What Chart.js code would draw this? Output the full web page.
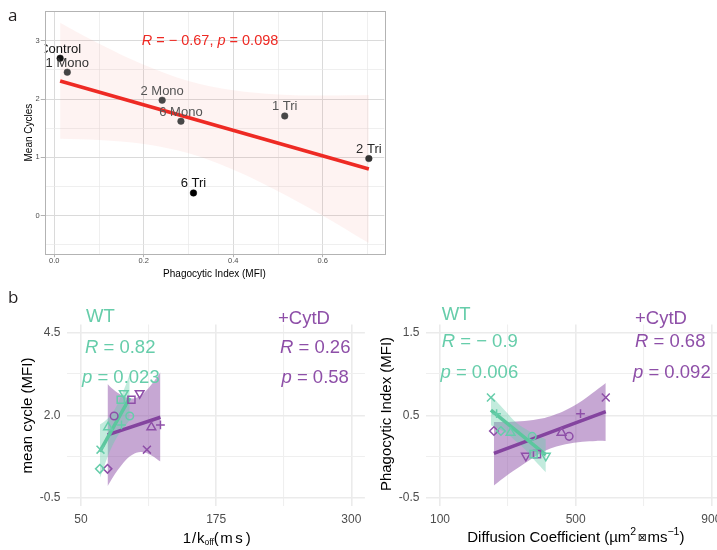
<!DOCTYPE html>
<html>
<head>
<meta charset="utf-8">
<script src="https://cdn.jsdelivr.net/npm/chart.js@4.4.1/dist/chart.umd.min.js"></script>
<style>
  html, body { margin:0; padding:0; background:#ffffff; }
  #wrap { position:relative; width:717px; height:550px; overflow:hidden; background:#fff; }
  #wrap canvas { position:absolute; }
</style>
</head>
<body>
<div id="wrap">
  <canvas id="cA" width="400" height="285" style="left:0;top:0;width:400px;height:285px"></canvas>
  <canvas id="cB1" width="372" height="265" style="left:0;top:285px;width:372px;height:265px"></canvas>
  <canvas id="cB2" width="360" height="265" style="left:372px;top:285px;width:360px;height:265px"></canvas>
</div>
<script>
// ================= DATA =================
const conditions = ['Control', '1 Mono', '2 Mono', '6 Mono', '1 Tri', '2 Tri', '6 Tri'];

// ---- panel a ----
const aPhagocytic = [0.013, 0.029, 0.241, 0.283, 0.515, 0.703, 0.311];
const aMeanCycles = [2.70, 2.46, 1.98, 1.62, 1.71, 0.98, 0.39];
const aFitX = [0.013, 0.703];
const aFitY = [2.31, 0.80];
const aBandX    = [0.013, 0.1, 0.2, 0.3, 0.4, 0.5, 0.6, 0.703];
const aBandLow  = [1.32, 1.30, 1.23, 1.07, 0.79, 0.42, 0.00, -0.47];
const aBandHigh = [3.31, 2.95, 2.59, 2.31, 2.15, 2.08, 2.06, 2.07];
const aXTicks = [0, 0.1, 0.2, 0.3, 0.4, 0.5, 0.6, 0.7];
const aXMajor = [0, 0.2, 0.4, 0.6];
const aXLabels = ['0.0', '0.2', '0.4', '0.6'];
const aYTicks = [-0.5, 0, 0.5, 1, 1.5, 2, 2.5, 3, 3.5];
const aYMajor = [0, 1, 2, 3];
const aYLabels = ['0', '1', '2', '3'];

// ---- panel b, left (1/koff vs mean cycle) ----
const bKoffWT   = [89.6, 86.8, 95.1, 75.1, 87.5, 68.1, 67.5];
const bKoffCytD = [104.3, 96.7, 80.7, 115.1, 123.5, 111.0, 74.6];
const bMeanCycle = [2.67, 2.47, 1.98, 1.64, 1.71, 0.96, 0.38];
const bFitWTX = [67.5, 95.1];   const bFitWTY = [0.90, 2.53];
const bFitCytX = [74.6, 123.5]; const bFitCytY = [1.41, 1.94];
const bBandWTX    = [67.5, 72, 76, 81.4, 86, 91, 95.1];
const bBandWTLow  = [0.10, 0.50, 0.85, 1.22, 1.47, 1.68, 1.85];
const bBandWTHigh = [1.72, 1.82, 1.94, 2.19, 2.50, 2.88, 3.26];
const bBandCytX    = [74.6, 80, 88, 95, 101.2, 108, 116, 123.5];
const bBandCytLow  = [-0.15, 0.15, 0.51, 0.75, 0.87, 0.88, 0.77, 0.60];
const bBandCytHigh = [2.95, 2.78, 2.60, 2.51, 2.53, 2.67, 2.96, 3.30];
const bXTicks = [50, 112.5, 175, 237.5, 300];
const bXMajor = [50, 175, 300];
const bXLabels = ['50', '175', '300'];
const bYTicks = [-0.5, 0.75, 2, 3.25, 4.5];
const bYMajor = [-0.5, 2, 4.5];
const bYLabels = ['-0.5', '2.0', '4.5'];

// ---- panel b, right (diffusion vs phagocytic index) ----
const cDiffWT   = [412.1, 376.0, 371.8, 308.2, 267.0, 250.2, 279.6];
const cDiffCytD = [353.2, 386.0, 480.8, 458.3, 514.3, 588.8, 259.0];
const cPhago = [0.01, 0.03, 0.245, 0.29, 0.52, 0.715, 0.31];
const cFitWTX = [250.2, 412.1]; const cFitWTY = [0.563, 0.022];
const cFitCytX = [259, 588.8];  const cFitCytY = [0.038, 0.544];
const cBandWTX    = [250.2, 280, 300, 322.8, 350, 380, 412.1];
const cBandWTLow  = [0.38, 0.32, 0.27, 0.19, 0.09, -0.05, -0.19];
const cBandWTHigh = [0.74, 0.61, 0.52, 0.42, 0.34, 0.27, 0.21];
const cBandCytX    = [259, 300, 350, 400, 434.2, 470, 520, 560, 588.8];
const cBandCytLow  = [-0.35, -0.22, -0.08, 0.05, 0.11, 0.15, 0.18, 0.19, 0.19];
const cBandCytHigh = [0.42, 0.42, 0.43, 0.46, 0.50, 0.56, 0.68, 0.80, 0.89];
const cXTicks = [100, 300, 500, 700, 900];
const cXMajor = [100, 500, 900];
const cXLabels = ['100', '500', '900'];
const cYTicks = [-0.5, 0, 0.5, 1, 1.5];
const cYMajor = [-0.5, 0.5, 1.5];
const cYLabels = ['-0.5', '0.5', '1.5'];

// ================= STYLE =================
const SANS = '"Liberation Sans", Arial, Helvetica, sans-serif';
const TEAL = '#66CDAA';
const TEAL_LINE = '#5CC79E';
const TEAL_FILL = 'rgba(102,205,170,0.40)';
const PURPLE = '#8E4FA8';
const PURPLE_LINE = '#84449F';
const PURPLE_FILL = 'rgba(142,79,168,0.50)';
const RED = '#EE2A24';

const aPointColors = ['#111111', '#444444', '#474747', '#474747', '#474747', '#333333', '#000000'];
const aLabelColors = ['#111111', '#333333', '#555555', '#555555', '#555555', '#2a2a2a', '#111111'];
// marker shapes per condition (ggplot open shapes)
const shapeStyle = ['triangle', 'rect', 'circle', 'triangle', 'cross', 'crossRot', 'rectRot'];
const shapeRot   = [180, 0, 0, 0, 0, 0, 0];
const shapeSize  = [5.0, 5.0, 3.8, 5.0, 4.4, 5.6, 4.3];

const pts = (xs, ys) => xs.map((x, i) => ({ x: x, y: ys[i] }));
const near = (a, b) => Math.abs(a - b) < 1e-9;

function makeScale(o) {
  const isMajor = (c) => c && c.tick && o.majors.some(m => near(m, c.tick.value));
  return {
    type: 'linear', min: o.min, max: o.max,
    afterFit: (s) => { if (o.axis === 'x') s.height = o.size; else s.width = o.size; },
    afterBuildTicks: (s) => { s.ticks = o.ticks.map(v => ({ value: v })); },
    ticks: {
      autoSkip: false, maxRotation: 0, minRotation: 0, padding: o.pad,
      font: { family: SANS, size: o.fs }, color: o.tickColor,
      callback: (v) => { const i = o.majors.findIndex(m => near(m, v)); return i >= 0 ? o.labels[i] : ''; }
    },
    grid: {
      drawTicks: !!o.tickLength, tickLength: o.tickLength || 0, tickWidth: 1,
      color: (c) => isMajor(c) ? o.majorColor : o.minorColor,
      lineWidth: (c) => isMajor(c) ? o.majorLW : o.minorLW,
      tickColor: (c) => isMajor(c) ? o.tickMarkColor : 'rgba(0,0,0,0)'
    },
    border: { display: false }
  };
}

function drawParts(ctx, parts, x, y, align, color) {
  let total = 0;
  const ws = parts.map(p => { ctx.font = p.font; const w = ctx.measureText(p.text).width + (p.gap || 0); total += w; return w; });
  let cx = align === 'center' ? x - total / 2 : (align === 'right' ? x - total : x);
  ctx.textAlign = 'left'; ctx.textBaseline = 'alphabetic'; ctx.fillStyle = color;
  parts.forEach((p, i) => { ctx.font = p.font; ctx.fillText(p.text, cx, y + (p.dy || 0)); cx += ws[i]; });
}
function drawRotated(ctx, parts, x, y, color) {
  ctx.save(); ctx.translate(x, y); ctx.rotate(-Math.PI / 2);
  drawParts(ctx, parts, 0, 0, 'center', color); ctx.restore();
}
const F = (size, style) => (style ? style + ' ' : '') + size + 'px ' + SANS;
function stat(letter, rest, size) { return [{ text: letter, font: F(size, 'italic') }, { text: rest, font: F(size) }]; }

function baseOptions(padding, xScale, yScale) {
  return {
    responsive: false, animation: false, devicePixelRatio: 1, events: [],
    layout: { padding: padding },
    plugins: { legend: { display: false }, tooltip: { enabled: false } },
    scales: { x: xScale, y: yScale }
  };
}
function bandPair(xs, lo, hi, fillColor) {
  return [
    { data: pts(xs, hi), showLine: true, pointRadius: 0, borderWidth: 0, borderColor: 'rgba(0,0,0,0)', tension: 0.35, fill: '+1', backgroundColor: fillColor },
    { data: pts(xs, lo), showLine: true, pointRadius: 0, borderWidth: 0, borderColor: 'rgba(0,0,0,0)', tension: 0.35, fill: false }
  ];
}
function fitLine(xs, ys, color, w) {
  return { data: pts(xs, ys), showLine: true, pointRadius: 0, borderWidth: w, borderColor: color, borderCapStyle: 'butt', fill: false };
}
function markers(xs, ys, color) {
  return { data: pts(xs, ys), showLine: false, pointStyle: shapeStyle, rotation: shapeRot, pointRotation: shapeRot,
           pointRadius: shapeSize, pointHoverRadius: shapeSize, pointBorderColor: color, pointBackgroundColor: 'rgba(0,0,0,0)',
           pointBorderWidth: 1.5, borderColor: color, backgroundColor: 'rgba(0,0,0,0)' };
}

// ================= PANEL a =================
new Chart(document.getElementById('cA'), {
  type: 'scatter',
  data: { datasets: [
    fitLine(aFitX, aFitY, RED, 3.6),
    { data: pts(aPhagocytic, aMeanCycles), showLine: false, pointStyle: 'circle', pointRadius: 3.3, pointHoverRadius: 3.3,
      pointBackgroundColor: aPointColors, pointBorderColor: aPointColors, pointBorderWidth: 0.5 },
    ...bandPair(aBandX, aBandLow, aBandHigh, 'rgba(248,118,109,0.085)')
  ] },
  options: baseOptions({ left: 0, right: 15.7, top: 11, bottom: 0 },
    makeScale({ axis: 'x', min: -0.0215, max: 0.7375, size: 30.8, ticks: aXTicks, majors: aXMajor, labels: aXLabels,
      pad: -1, fs: 7.5, tickColor: '#4D4D4D', tickLength: 3, majorColor: '#DADADA', minorColor: '#E8E8E8', majorLW: 1, minorLW: 0.7, tickMarkColor: '#B3B3B3' }),
    makeScale({ axis: 'y', min: -0.66, max: 3.51, size: 44.7, ticks: aYTicks, majors: aYMajor, labels: aYLabels,
      pad: 1, fs: 7.5, tickColor: '#4D4D4D', tickLength: 4, majorColor: '#DADADA', minorColor: '#E8E8E8', majorLW: 1, minorLW: 0.7, tickMarkColor: '#B3B3B3' })),
  plugins: [{
    id: 'annoA',
    afterDatasetsDraw(chart) {
      const ctx = chart.ctx, ca = chart.chartArea, sx = chart.scales.x, sy = chart.scales.y;
      ctx.save();
      ctx.beginPath(); ctx.rect(ca.left, ca.top, ca.right - ca.left, ca.bottom - ca.top); ctx.clip();
      conditions.forEach((c, i) => {
        drawParts(ctx, [{ text: c, font: F(13) }], sx.getPixelForValue(aPhagocytic[i]), sy.getPixelForValue(aMeanCycles[i]) - 5.7, 'center', aLabelColors[i]);
      });
      ctx.restore();
      ctx.save();
      ctx.strokeStyle = '#B3B3B3'; ctx.lineWidth = 1;
      ctx.strokeRect(Math.round(ca.left) + 0.5, Math.round(ca.top) + 0.5, Math.round(ca.right - ca.left), Math.round(ca.bottom - ca.top));
      ctx.restore();
    },
    afterDraw(chart) {
      const ctx = chart.ctx;
      ctx.save();
      ctx.textAlign = 'left'; ctx.textBaseline = 'alphabetic';
      ctx.fillStyle = '#231F20'; ctx.font = '17px "Open Sans", ' + SANS; ctx.fillText('a', 8, 20.5);
      drawParts(ctx, [...stat('R', ' = \u2212 0.67, ', 14.5), ...stat('p', ' = 0.098', 14.5)], 141.7, 45, 'left', RED);
      drawParts(ctx, [{ text: 'Phagocytic Index (MFI)', font: F(10) }], 214.5, 276.5, 'center', '#000');
      drawRotated(ctx, [{ text: 'Mean Cycles', font: F(10) }], 32.3, 132.6, '#000');
      ctx.restore();
    }
  }]
});

// ================= PANEL b left =================
new Chart(document.getElementById('cB1'), {
  type: 'scatter',
  data: { datasets: [
    markers(bKoffWT, bMeanCycle, TEAL),
    markers(bKoffCytD, bMeanCycle, PURPLE),
    fitLine(bFitWTX, bFitWTY, TEAL_LINE, 3.5),
    fitLine(bFitCytX, bFitCytY, PURPLE_LINE, 3.5),
    ...bandPair(bBandWTX, bBandWTLow, bBandWTHigh, TEAL_FILL),
    ...bandPair(bBandCytX, bBandCytLow, bBandCytHigh, PURPLE_FILL)
  ] },
  options: baseOptions({ left: 0, right: 5.8, top: 39.4, bottom: 0 },
    makeScale({ axis: 'x', min: 37.5, max: 312.5, size: 43.8, ticks: bXTicks, majors: bXMajor, labels: bXLabels,
      pad: 6, fs: 12, tickColor: '#4D4D4D', majorColor: '#EBEBEB', minorColor: '#EFEFEF', majorLW: 1.6, minorLW: 1.1 }),
    makeScale({ axis: 'y', min: -0.75, max: 4.75, size: 67.4, ticks: bYTicks, majors: bYMajor, labels: bYLabels,
      pad: 7, fs: 12, tickColor: '#4D4D4D', majorColor: '#EBEBEB', minorColor: '#EFEFEF', majorLW: 1.6, minorLW: 1.1 })),
  plugins: [{
    id: 'annoB1',
    afterDraw(chart) {
      const ctx = chart.ctx;
      ctx.save();
      ctx.textAlign = 'left'; ctx.textBaseline = 'alphabetic';
      ctx.fillStyle = '#231F20'; ctx.font = '17px "Open Sans", ' + SANS; ctx.fillText('b', 8, 18);
      drawParts(ctx, [{ text: 'WT', font: F(18.5) }], 86, 36.5, 'left', TEAL);
      drawParts(ctx, stat('R', ' = 0.82', 18.5), 85, 68.3, 'left', TEAL);
      drawParts(ctx, stat('p', ' = 0.023', 18.5), 82, 97.7, 'left', TEAL);
      drawParts(ctx, [{ text: '+CytD', font: F(18.5) }], 278, 38.5, 'left', PURPLE);
      drawParts(ctx, stat('R', ' = 0.26', 18.5), 280, 68.3, 'left', PURPLE);
      drawParts(ctx, stat('p', ' = 0.58', 18.5), 281.5, 97.7, 'left', PURPLE);
      drawRotated(ctx, [{ text: 'mean cycle (MFI)', font: F(15) }], 32, 130.5, '#000');
      drawParts(ctx, [
        { text: '1', font: F(15), gap: 0.8 }, { text: '/', font: F(15), gap: 0.8 }, { text: 'k', font: F(15) },
        { text: 'off', font: F(8.5), dy: 2.5 },
        { text: '(', font: F(15), gap: 1.5 }, { text: 'm', font: F(15), gap: 2.5 }, { text: 's', font: F(15), gap: 3 }, { text: ')', font: F(15) }
      ], 216.8, 257.5, 'center', '#000');
      ctx.restore();
    }
  }]
});

// ================= PANEL b right =================
new Chart(document.getElementById('cB2'), {
  type: 'scatter',
  data: { datasets: [
    markers(cDiffWT, cPhago, TEAL),
    markers(cDiffCytD, cPhago, PURPLE),
    fitLine(cFitWTX, cFitWTY, TEAL_LINE, 3.5),
    fitLine(cFitCytX, cFitCytY, PURPLE_LINE, 3.5),
    ...bandPair(cBandWTX, cBandWTLow, cBandWTHigh, TEAL_FILL),
    ...bandPair(cBandCytX, cBandCytLow, cBandCytHigh, PURPLE_FILL)
  ] },
  options: baseOptions({ left: 0, right: 6.7, top: 39.4, bottom: 0 },
    makeScale({ axis: 'x', min: 60, max: 940, size: 43.8, ticks: cXTicks, majors: cXMajor, labels: cXLabels,
      pad: 6, fs: 12, tickColor: '#4D4D4D', majorColor: '#EBEBEB', minorColor: '#EFEFEF', majorLW: 1.6, minorLW: 1.1 }),
    makeScale({ axis: 'y', min: -0.6, max: 1.6, size: 54.4, ticks: cYTicks, majors: cYMajor, labels: cYLabels,
      pad: 7, fs: 12, tickColor: '#4D4D4D', majorColor: '#EBEBEB', minorColor: '#EFEFEF', majorLW: 1.6, minorLW: 1.1 })),
  plugins: [{
    id: 'annoB2',
    afterDraw(chart) {
      const ctx = chart.ctx;
      ctx.save();
      drawParts(ctx, [{ text: 'WT', font: F(18.5) }], 69.7, 35, 'left', TEAL);
      drawParts(ctx, stat('R', ' = \u2212 0.9', 18.5), 69.7, 61.7, 'left', TEAL);
      drawParts(ctx, stat('p', ' = 0.006', 18.5), 68.5, 93.3, 'left', TEAL);
      drawParts(ctx, [{ text: '+CytD', font: F(18.5) }], 263, 39, 'left', PURPLE);
      drawParts(ctx, stat('R', ' = 0.68', 18.5), 263, 61.7, 'left', PURPLE);
      drawParts(ctx, stat('p', ' = 0.092', 18.5), 261, 93.3, 'left', PURPLE);
      drawRotated(ctx, [{ text: 'Phagocytic Index (MFI)', font: F(15) }], 18.8, 129, '#000');
      drawParts(ctx, [
        { text: 'Diffusion Coefficient (\u00B5m', font: F(15) },
        { text: '2', font: F(10.5), dy: -7, gap: 1.5 },
        { text: '\u22A0', font: '11px "DejaVu Sans"', dy: -1, gap: 0.5 },
        { text: 'ms', font: F(15) },
        { text: '\u22121', font: F(10.5), dy: -7 },
        { text: ')', font: F(15) }
      ], 203.8, 257.3, 'center', '#000');
      ctx.restore();
    }
  }]
});
</script>
</body>
</html>
